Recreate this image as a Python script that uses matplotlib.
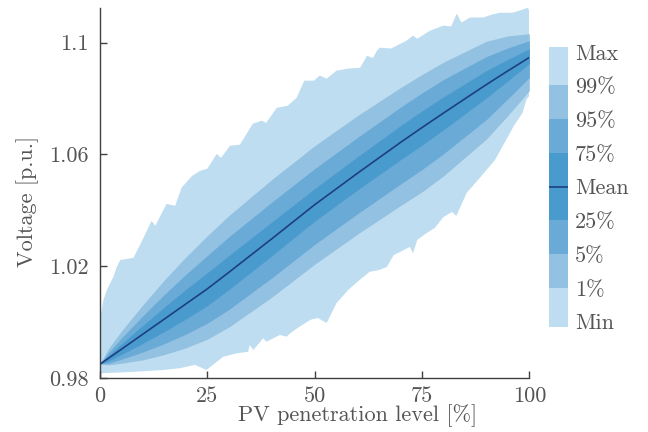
import matplotlib
matplotlib.use('Agg')
import matplotlib.pyplot as plt

plt.rcParams['font.family'] = 'cmr10'
plt.rcParams['mathtext.fontset'] = 'cm'
plt.rcParams['axes.formatter.use_mathtext'] = True
fontsize = 16
text_col = '#555555'
spine_col = '#404040'

# percentile bands (PV penetration level [%] -> voltage [p.u.])
x_q = [0, 2, 5, 10, 15, 20, 25, 30, 40, 50, 60, 70, 75, 80, 90, 95, 100]
v_mean = [0.9850, 0.9871, 0.9903, 0.9957, 1.0011, 1.0065, 1.0119, 1.0178, 1.0298,
          1.0420, 1.0533, 1.0643, 1.0696, 1.0748, 1.0850, 1.0899, 1.0947]
v_q99 = [0.9850, 0.9906, 0.9968, 1.0062, 1.0151, 1.0233, 1.0309, 1.0381, 1.0510,
         1.0631, 1.0739, 1.0839, 1.0886, 1.0930, 1.1005, 1.1024, 1.1032]
v_q95 = [0.9850, 0.9891, 0.9943, 1.0023, 1.0099, 1.0171, 1.0238, 1.0305, 1.0429,
         1.0549, 1.0661, 1.0769, 1.0820, 1.0868, 1.0950, 1.0981, 1.1007]
v_q75 = [0.9850, 0.9881, 0.9922, 0.9989, 1.0054, 1.0117, 1.0177, 1.0238, 1.0358,
         1.0478, 1.0592, 1.0703, 1.0756, 1.0806, 1.0900, 1.0940, 1.0978]
v_q25 = [0.9850, 0.9861, 0.9884, 0.9924, 0.9966, 1.0011, 1.0059, 1.0116, 1.0237,
         1.0361, 1.0473, 1.0581, 1.0633, 1.0688, 1.0802, 1.0863, 1.0925]
v_q05 = [0.9850, 0.9853, 0.9867, 0.9893, 0.9923, 0.9957, 0.9996, 1.0045, 1.0158,
         1.0278, 1.0388, 1.0494, 1.0546, 1.0602, 1.0725, 1.0799, 1.0875]
v_q01 = [0.9850, 0.9847, 0.9853, 0.9865, 0.9884, 0.9908, 0.9939, 0.9982, 1.0089,
         1.0207, 1.0315, 1.0417, 1.0466, 1.0523, 1.0655, 1.0739, 1.0828]

# envelope
max_x = [0, 0.8, 1.6, 3.1, 3.9, 4.7, 7.8, 9.8, 12.0, 12.9, 15.5, 17.5, 19.0, 21.5,
         23.3, 25.0, 27.2, 28.2, 30.3, 32.6, 35.6, 37.7, 38.7, 41.2, 43.7, 45.8,
         47.6, 49.8, 51.2, 52.8, 55.1, 57.8, 60.6, 62.2, 63.6, 64.5, 65.2, 67.8,
         71.4, 72.9, 73.9, 76.9, 80.0, 81.8, 83.1, 84.2, 86.2, 89.3, 91.2, 93.2,
         96.1, 97.8, 99.7, 100]
max_v = [1.0008, 1.0079, 1.0115, 1.0161, 1.0197, 1.0222, 1.0230, 1.0291, 1.0362,
         1.0345, 1.0423, 1.0416, 1.0481, 1.0524, 1.0541, 1.0549, 1.0602, 1.0588,
         1.0631, 1.0635, 1.0710, 1.0721, 1.0713, 1.0767, 1.0774, 1.0803, 1.0864,
         1.0864, 1.0882, 1.0871, 1.0900, 1.0907, 1.0910, 1.0953, 1.0945, 1.0971,
         1.0982, 1.0979, 1.1007, 1.1025, 1.1014, 1.1043, 1.1061, 1.1058, 1.1104,
         1.1072, 1.1090, 1.1090, 1.1100, 1.1107, 1.1107, 1.1115, 1.1125, 1.1110]
min_x = [0, 5, 10, 15, 18.6, 22.1, 24.8, 28.7, 31.8, 34.5, 34.9, 35.7, 38.0, 38.8,
         41.9, 43.5, 44.3, 46.5, 49.0, 50.7, 52.8, 55.1, 57.8, 60.5, 62.8, 64.9,
         66.8, 68.4, 69.9, 72.2, 72.9, 73.9, 76.1, 78.0, 80.0, 82.0, 83.0, 85.4,
         88.0, 90.0, 92.0, 94.6, 96.5, 98.4, 99.3, 100]
min_v = [0.9817, 0.9820, 0.9824, 0.9829, 0.9835, 0.9847, 0.9829, 0.9876, 0.9888,
         0.9894, 0.9918, 0.9900, 0.9942, 0.9930, 0.9954, 0.9948, 0.9960, 0.9984,
         1.0008, 1.0015, 0.9997, 1.0068, 1.0115, 1.0151, 1.0180, 1.0186, 1.0197,
         1.0240, 1.0251, 1.0269, 1.0247, 1.0294, 1.0319, 1.0337, 1.0376, 1.0394,
         1.0380, 1.0462, 1.0508, 1.0544, 1.0580, 1.0652, 1.0705, 1.0748, 1.0795,
         1.0810]

c_env = '#bfddf0'
c_99 = '#92c1e1'
c_95 = '#6aaad7'
c_75 = '#4a9bcd'
c_mean = '#1d3f82'

xticks = [0, 25, 50, 75, 100]
yticks = [0.98, 1.02, 1.06, 1.1]
ytick_labels = ['0.98', '1.02', '1.06', '1.1']
leg_labels = ['Min', '1%', '5%', '25%', 'Mean', '75%', '95%', '99%', 'Max']
leg_edges = [-0.15, 1, 2, 3, 5, 6, 7, 8.15]
leg_cols = [c_env, c_99, c_95, c_75, c_95, c_99, c_env]

fig = plt.figure(figsize=(6.48, 4.32), dpi=100)
ax = fig.add_axes([100 / 648, 1 - 378 / 432, 429.3 / 648, 370 / 432])

ax.fill(max_x + min_x[::-1], max_v + min_v[::-1], color=c_env, lw=0)
ax.fill_between(x_q, v_q01, v_q99, color=c_99, lw=0)
ax.fill_between(x_q, v_q05, v_q95, color=c_95, lw=0)
ax.fill_between(x_q, v_q25, v_q75, color=c_75, lw=0)
ax.plot(x_q, v_mean, color=c_mean, lw=1.2)

ax.set_xlim(0, 100)
ax.set_ylim(0.98, 1.1124)
ax.set_xticks(xticks)
ax.set_xticklabels([str(t) for t in xticks])
ax.set_yticks(yticks)
ax.set_yticklabels(ytick_labels)
for s in ['top', 'right']:
    ax.spines[s].set_visible(False)
for s in ['left', 'bottom']:
    ax.spines[s].set_color(spine_col)
    ax.spines[s].set_linewidth(1.0)
ax.tick_params(direction='in', length=5, width=1, color=spine_col,
               labelsize=fontsize, labelcolor=text_col)
ax.tick_params(axis='y', pad=8)
ax.tick_params(axis='x', pad=6)

fig.text(358 / 648, 1 - 416 / 432, 'PV penetration level [%]', ha='center',
         va='center', fontsize=fontsize, color=text_col)
fig.text(27.5 / 648, 1 - 201 / 432, 'Voltage [p.u.]', ha='center', va='center',
         rotation=90, fontsize=fontsize, color=text_col)

# legend strip
lax = fig.add_axes([549 / 648, 1 - 326.7 / 432, 19 / 648, 280 / 432])
for i in range(len(leg_cols)):
    lax.axhspan(leg_edges[i], leg_edges[i + 1], color=leg_cols[i], lw=0)
lax.axhline(4, color=c_mean, lw=1.2)
lax.set_xlim(0, 1)
lax.set_ylim(leg_edges[0], leg_edges[-1])
for s in lax.spines.values():
    s.set_visible(False)
lax.set_xticks([])
lax.yaxis.tick_right()
lax.set_yticks(range(len(leg_labels)))
lax.set_yticklabels(leg_labels)
lax.tick_params(axis='y', length=0, pad=5, labelsize=fontsize, labelcolor=text_col)

fig.savefig('out.png', dpi=100)
